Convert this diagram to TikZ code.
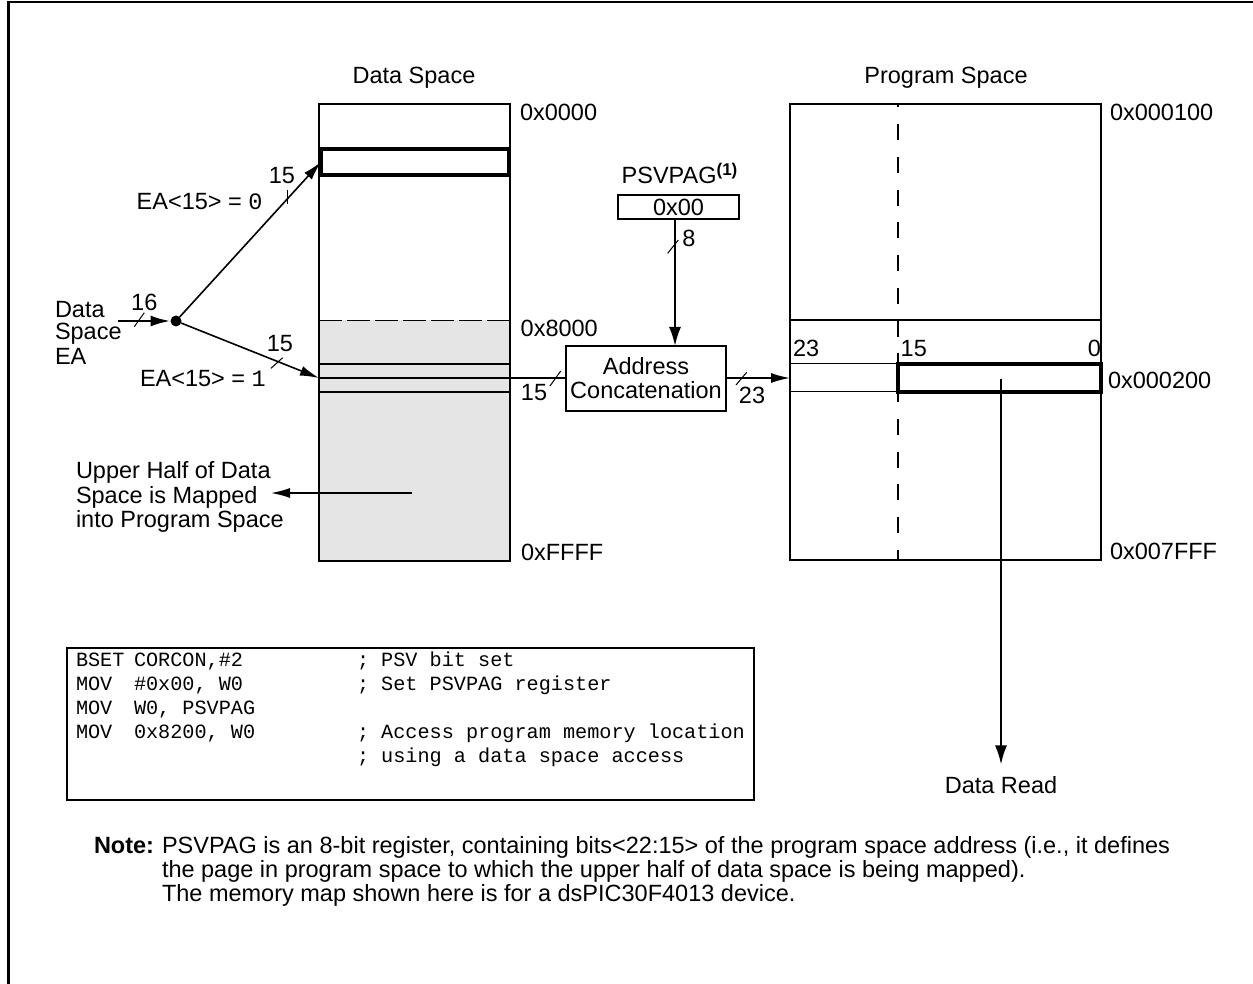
\documentclass[tikz,border=0pt]{standalone}
\usepackage{fontspec}
\setmainfont{Liberation Sans}
\newfontfamily\codefont{Liberation Mono}
\usetikzlibrary{arrows.meta}
\definecolor{memgray}{gray}{0.9}
\begin{document}
\begin{tikzpicture}[x=1pt,y=-1pt,
  every node/.style={inner sep=0pt, outer sep=0pt, font=\fontsize{23.5}{24}\selectfont},
  txt/.style={anchor=base},
  txtw/.style={anchor=base west},
  txte/.style={anchor=base east},
  codeln/.style={anchor=base west, font=\fontsize{20.2}{24}\selectfont\codefont},
  membox/.style={draw, line width=2pt},
  rowline/.style={line width=1.7pt},
  hot/.style={draw, line width=4pt},
  conn/.style={line width=1.6pt, -{Latex[length=19pt,width=10pt]}},
  plainconn/.style={line width=1.6pt},
  bustick/.style={line width=1pt},
]
\useasboundingbox (0,0) rectangle (1253,984);
% outer frame (only top and left visible)
\draw[line width=2.6pt] (1260,2.2) -- (8.7,2.2) -- (8.7,990);

% ---------- Data space ----------
\node[txt] (dstitle) at (414,83.5) {Data Space};
\fill[memgray] (319,320.5) rectangle (510,561);
\draw[line width=1.7pt, dash pattern=on 23pt off 5pt] (319,320.5) -- (510,320.5);
\draw[rowline] (319,364) -- (510,364);
\draw[rowline] (319,378) -- (510,378);
\draw[rowline] (319,392) -- (510,392);
\node[membox, minimum width=191pt, minimum height=457pt] (ds) at (414.5,332.5) {};
\node[hot, minimum width=187.5pt, minimum height=26pt] (dsrow) at (414.75,162) {};
\node[txtw] (a0000) at (520,120.5) {0x0000};
\node[txtw] (a8000) at (520.7,336.5) {0x8000};
\node[txtw] (affff) at (521,560) {0xFFFF};

% ---------- Program space ----------
\node[txt] (pstitle) at (946,83.5) {Program Space};
\draw[rowline] (790,320) -- (1101,320);
\draw[rowline] (790,363.5) -- (1101,363.5);
\draw[rowline] (790,391.5) -- (1101,391.5);
\draw[line width=2pt, dash pattern=on 16pt off 16.75pt, dash phase=12.55pt] (898,104) -- (898,560);
\node[membox, minimum width=311pt, minimum height=456pt] (ps) at (945.5,332) {};
\node[hot, minimum width=203.5pt, minimum height=28pt] (psrow) at (999.25,377.5) {};
\node[txtw] (p23) at (793,356) {23};
\node[txtw] (p15) at (900.7,356) {15};
\node[txte] (p0) at (1101,356) {0};
\node[txtw] (a100) at (1110,120.5) {0x000100};
\node[txtw] (a200) at (1108,388.5) {0x000200};
\node[txtw] (a7fff) at (1110,559.5) {0x007FFF};

% ---------- PSVPAG and concatenation ----------
\node[txtw] (psvl) at (621.7,183.5) {PSVPAG\raisebox{8pt}{\fontsize{17}{17}\selectfont\bfseries(1)}};
\node[draw, line width=1.7pt, minimum width=121pt, minimum height=24pt] (psvbox) at (678.5,207) {0x00};
\node[membox, line width=1.8pt, minimum width=160pt, minimum height=65pt, align=center] (concat) at (646,378.5) {Address\\Concatenation};
\coordinate (psvout) at (675,219);
\draw[line width=2pt, -{Latex[length=19pt,width=12pt]}] (psvout) -- (psvout |- concat.north);
\draw[bustick] (667.7,253.3) -- (678.3,240);
\node[txt] (l8) at (689,247) {8};

\coordinate (dsout) at (510,378);
\draw[plainconn] (dsout) -- (dsout -| concat.west);
\draw[bustick] (550,386) -- (560.7,371);
\node[txt] (l15c) at (534,400.5) {15};

\coordinate (psin) at (790,378);
\draw[conn] (concat.east |- psin) -- (psin);
\draw[bustick] (736,385) -- (746.7,372.3);
\node[txt] (l23c) at (752,403.5) {23};

% ---------- Data read ----------
\coordinate (rdsrc) at (1001,379);
\node[txt] (dread) at (1001,793.5) {Data Read};
\draw[line width=2pt, -{Latex[length=19pt,width=12pt]}, shorten >=12pt] (rdsrc) -- (dread.north);

% ---------- EA input ----------
\node[txtw] (dea1) at (55,317.5) {Data};
\node[txtw] (dea2) at (55,340) {Space};
\node[txtw] (dea3) at (55,364) {EA};
\node[circle, fill, minimum size=11pt] (dot) at (176,321) {};
\coordinate (eain) at (118,321);
\draw[line width=2.6pt, -{Latex[length=20pt,width=11pt]}] (eain) -- (dot);
\draw[bustick] (134.3,326.7) -- (144.3,312.7);
\node[txt] (l16) at (144.3,310.5) {16};

\draw[conn] (dot) -- (dsrow.west);
\draw[bustick] (287,190) -- (287,204);
\node[txt] (l15a) at (282,183.5) {15};
\node[txtw] (ea0) at (136.7,209.5) {EA<15> = {\codefont 0}};

\coordinate (dsin) at (319,378);
\draw[conn] (dot) -- (dsin);
\draw[bustick] (271,368.3) -- (282.7,357.7);
\node[txt] (l15b) at (280,351.5) {15};
\node[txtw] (ea1) at (140,386.5) {EA<15> = {\codefont 1}};

% ---------- Upper half note ----------
\node[txtw] (uh1) at (76,478.5) {Upper Half of Data};
\node[txtw] (uh2) at (76,503) {Space is Mapped};
\node[txtw] (uh3) at (76,527.5) {into Program Space};
\coordinate (uhsrc) at (412,493);
\coordinate (uhtip) at (271,493);
\draw[conn] (uhsrc) -- (uhtip);

% ---------- Code box ----------
\node[draw, line width=2pt, minimum width=687pt, minimum height=152pt] (codebox) at (410.5,724) {};
\node[codeln] (c11) at (76,666.5) {BSET};
\node[codeln] (c12) at (134,666.5) {CORCON,\#2};
\node[codeln] (c13) at (357,666.5) {; PSV bit set};
\node[codeln] (c21) at (76,690.8) {MOV};
\node[codeln] (c22) at (134,690.8) {\#0x00, W0};
\node[codeln] (c23) at (357,690.8) {; Set PSVPAG register};
\node[codeln] (c31) at (76,714.8) {MOV};
\node[codeln] (c32) at (134,714.8) {W0, PSVPAG};
\node[codeln] (c41) at (76,738.8) {MOV};
\node[codeln] (c42) at (134,738.8) {0x8200, W0};
\node[codeln] (c43) at (357,738.8) {; Access program memory location};
\node[codeln] (c53) at (357,762.8) {; using a data space access};

% ---------- Note ----------
\node[txtw] (notehd) at (94,853.5) {\bfseries Note:};
\node[txtw] (n1) at (162,853.5) {PSVPAG is an 8-bit register, containing bits<22:15> of the program space address (i.e., it defines};
\node[txtw] (n2) at (162,877.5) {the page in program space to which the upper half of data space is being mapped).};
\node[txtw] (n3) at (162,901.5) {The memory map shown here is for a dsPIC30F4013 device.};
\end{tikzpicture}
\end{document}
